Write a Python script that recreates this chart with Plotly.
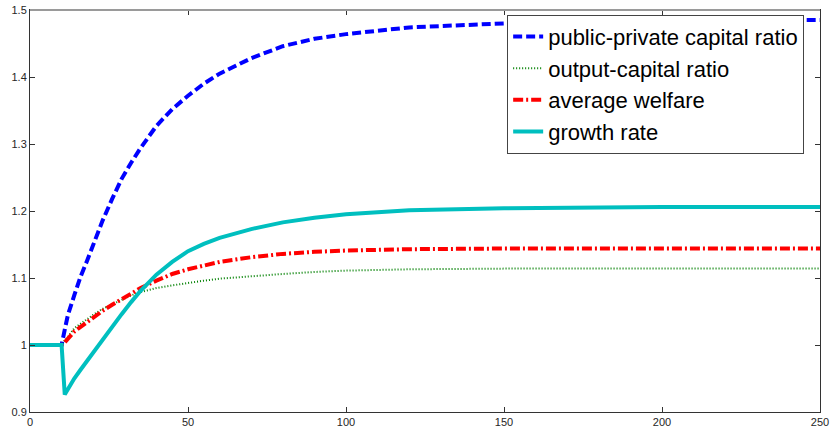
import plotly.graph_objects as go

periods = [0, 10, 11, 12, 14, 16, 18, 20, 23, 26, 29, 32, 35, 40, 45, 50, 55, 60,
           70, 80, 90, 100, 120, 150, 200, 250]

public_private = [1.0, 1.0, 1.023, 1.045, 1.074, 1.102, 1.125, 1.150, 1.186, 1.218,
                  1.248, 1.272, 1.294, 1.327, 1.352, 1.372, 1.390, 1.405, 1.428,
                  1.446, 1.457, 1.464, 1.474, 1.480, 1.484, 1.485]
output_capital = [1.0, 1.0, 1.007, 1.012, 1.025, 1.032, 1.039, 1.045, 1.054, 1.061,
                  1.068, 1.074, 1.079, 1.085, 1.089, 1.093, 1.096, 1.099, 1.103,
                  1.106, 1.109, 1.111, 1.113, 1.114, 1.114, 1.114]
avg_welfare = [1.0, 1.0, 1.004, 1.009, 1.020, 1.027, 1.034, 1.041, 1.051, 1.060,
               1.068, 1.077, 1.085, 1.096, 1.106, 1.113, 1.119, 1.124, 1.131,
               1.136, 1.139, 1.141, 1.143, 1.144, 1.144, 1.144]
growth_rate = [1.0, 1.0, 0.926, 0.934, 0.950, 0.963, 0.976, 0.988, 1.007, 1.026,
               1.046, 1.064, 1.081, 1.105, 1.124, 1.140, 1.151, 1.160, 1.173,
               1.183, 1.190, 1.195, 1.201, 1.204, 1.206, 1.206]

x_ticks = [0, 50, 100, 150, 200, 250]
y_ticks = [0.9, 1.0, 1.1, 1.2, 1.3, 1.4, 1.5]
y_tick_labels = ["0.9", "1", "1.1", "1.2", "1.3", "1.4", "1.5"]

fig = go.Figure()
fig.add_trace(go.Scatter(x=periods, y=public_private, mode="lines",
                         name="public-private capital ratio",
                         line=dict(color="#0000FF", width=4, dash="9px,4px")))
fig.add_trace(go.Scatter(x=periods, y=output_capital, mode="lines",
                         name="output-capital ratio",
                         line=dict(color="#008000", width=2, dash="1px,2px")))
fig.add_trace(go.Scatter(x=periods, y=avg_welfare, mode="lines",
                         name="average welfare",
                         line=dict(color="#FF0000", width=4, dash="10px,3px,2px,3px")))
fig.add_trace(go.Scatter(x=periods, y=growth_rate, mode="lines",
                         name="growth rate",
                         line=dict(color="#00BFBF", width=4)))

axis_common = dict(showgrid=False, zeroline=False, showline=True, linecolor="#333333",
                   linewidth=1, mirror="ticks", ticks="inside", ticklen=5,
                   tickcolor="#333333", automargin=False,
                   tickfont=dict(family="Liberation Sans, Arial", size=11, color="#262626"))

fig.update_layout(
    width=832, height=430,
    margin=dict(l=30, r=12, t=10, b=18),
    paper_bgcolor="white", plot_bgcolor="white",
    xaxis=dict(range=[0, 250], tickvals=x_ticks, **axis_common),
    yaxis=dict(range=[0.9, 1.5], tickvals=y_ticks, ticktext=y_tick_labels, **axis_common),
    legend=dict(x=0.604, y=0.988, xanchor="left", yanchor="top",
                bgcolor="white", bordercolor="#444444", borderwidth=1,
                font=dict(family="Liberation Sans, Arial", size=22, color="black"),
                tracegroupgap=0, itemwidth=30),
    shapes=[dict(type="line", xref="paper", yref="paper", x0=0, x1=1, y0=1, y1=1,
                 line=dict(color="#9a9a9a", width=2))],
    showlegend=True,
)

fig.write_html("out.html", config={"displayModeBar": False},
               post_script="document.body.style.margin='0';")
